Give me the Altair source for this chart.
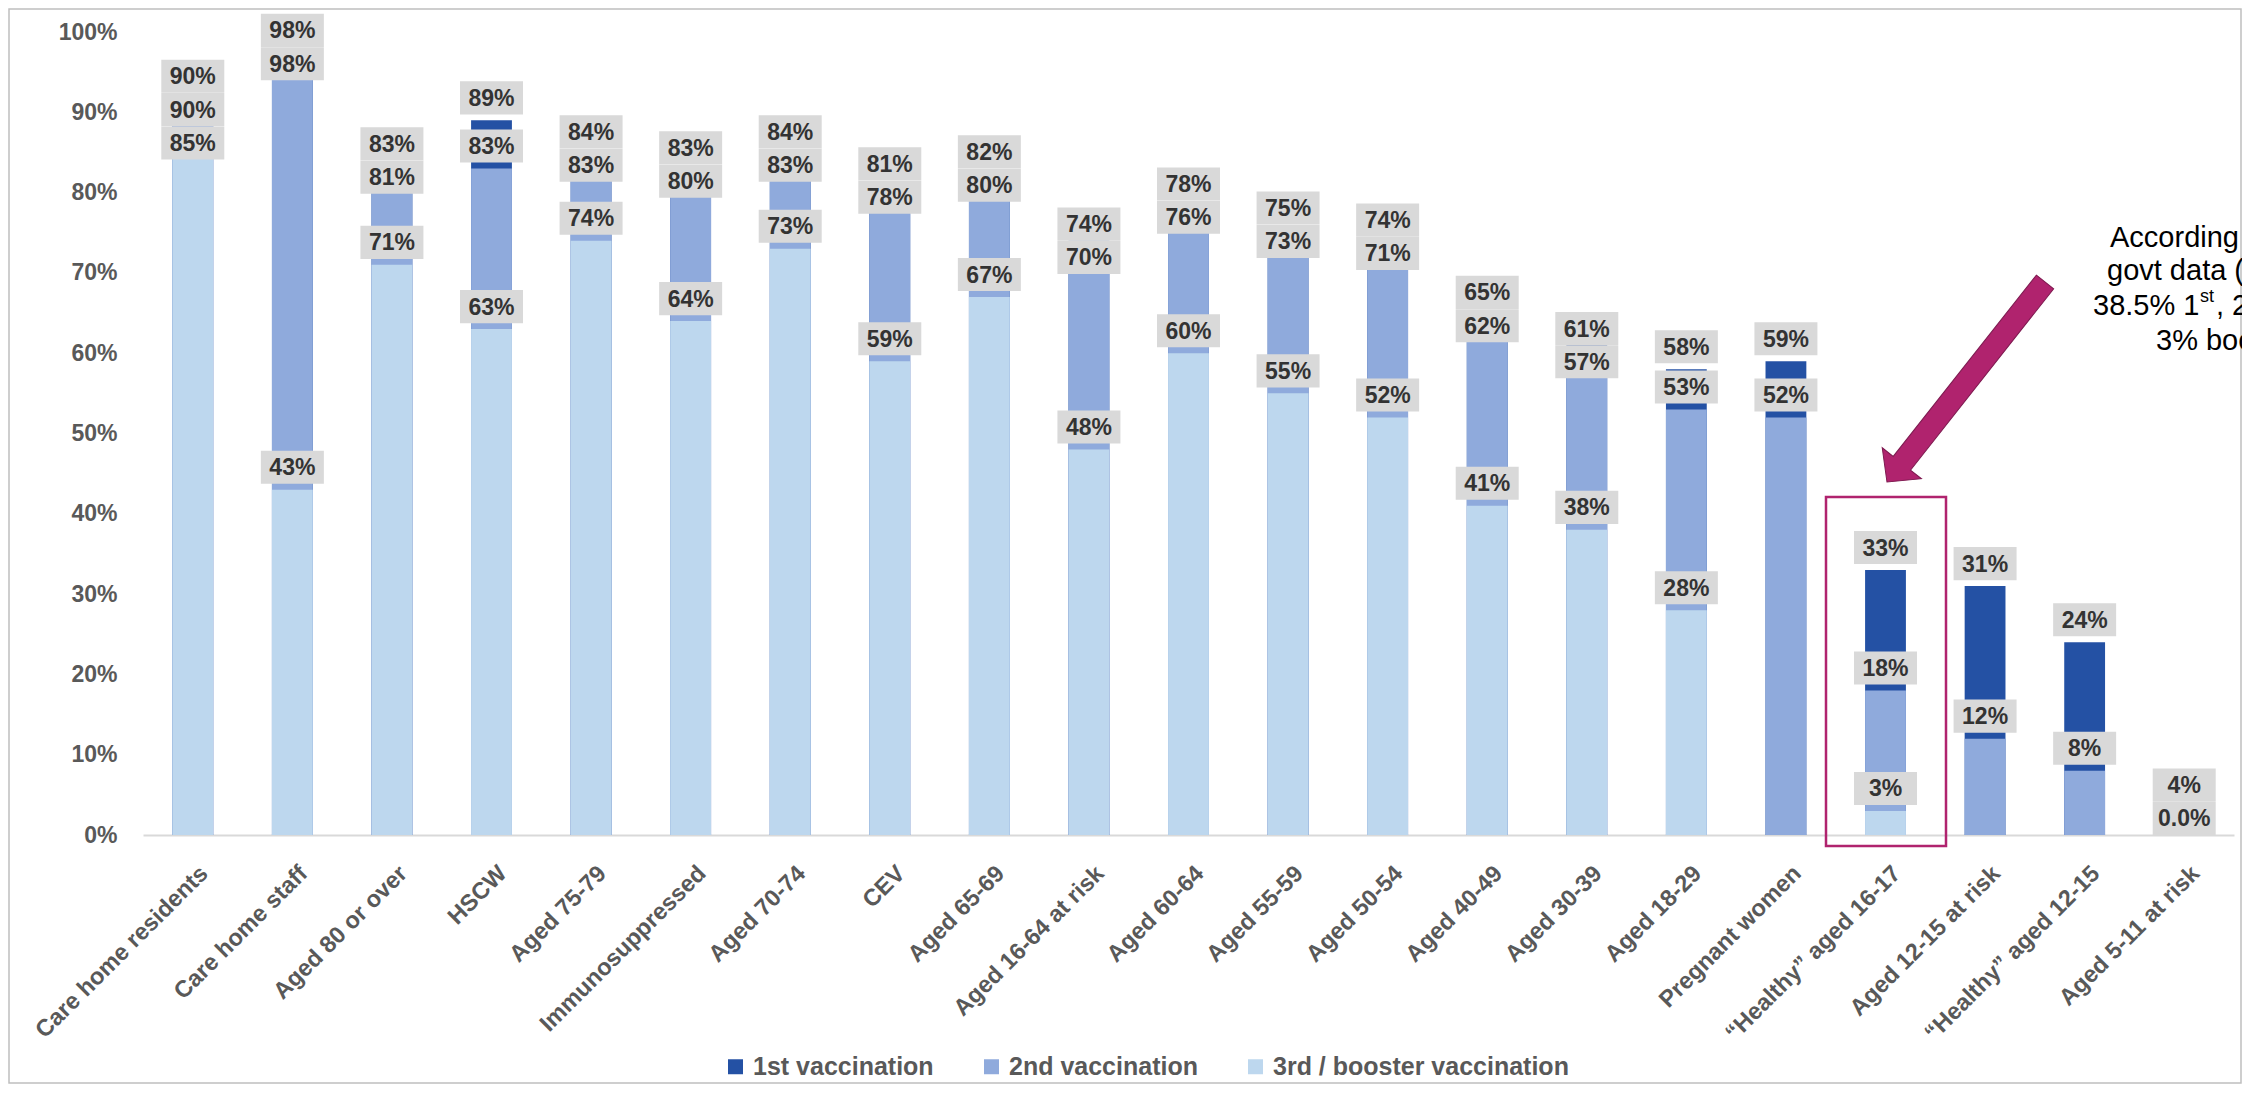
import altair as alt
import pandas as pd

categories = [
    "Care home residents", "Care home staff", "Aged 80 or over", "HSCW", "Aged 75-79",
    "Immunosuppressed", "Aged 70-74", "CEV", "Aged 65-69", "Aged 16-64 at risk",
    "Aged 60-64", "Aged 55-59", "Aged 50-54", "Aged 40-49", "Aged 30-39", "Aged 18-29",
    "Pregnant women", "\u201cHealthy\u201d aged 16-17", "Aged 12-15 at risk",
    "\u201cHealthy\u201d aged 12-15", "Aged 5-11 at risk",
]
first_dose = [90, 98, 83, 89, 84, 83, 84, 81, 82, 74, 78, 75, 74, 65, 61, 58, 59, 33, 31, 24, 4]
second_dose = [90, 98, 81, 83, 83, 80, 83, 78, 80, 70, 76, 73, 71, 62, 57, 53, 52, 18, 12, 8, 0]
booster_dose = [85, 43, 71, 63, 74, 64, 73, 59, 67, 48, 60, 55, 52, 41, 38, 28,
                None, 3, None, None, None]

series_names = ["1st vaccination", "2nd vaccination", "3rd / booster vaccination"]
series_colors = ["#2451A4", "#8FAADC", "#BDD7EE"]

FONT = "Liberation Sans, Arial, sans-serif"

# ---------- bars (drawn back to front: 1st, 2nd, booster) ----------
rows = []
for name, vals in zip(series_names, [first_dose, second_dose, booster_dose]):
    for c, v in zip(categories, vals):
        if v is not None:
            rows.append({"category": c, "series": name, "value": v})
bars_df = pd.DataFrame(rows)

# ---------- label layout (boxes just above each value, pushed apart on overlap) ----------
OFF, GAP, FLOOR, CEIL, CL_OFF = 2.8, 4.15, 2.06, 100.2, 2.0


def place(vals):
    items = sorted([(v, i) for i, v in enumerate(vals) if v is not None])
    clusters = []
    for v, i in items:
        clusters.append({"d": [v + OFF], "i": [i], "v": [v]})
        while len(clusters) > 1:
            a, b = clusters[-2], clusters[-1]
            ca = sum(a["d"]) / len(a["d"])
            cb = sum(b["d"]) / len(b["d"])
            top_a = ca + (len(a["d"]) - 1) * GAP / 2
            bot_b = cb - (len(b["d"]) - 1) * GAP / 2
            if bot_b - top_a < GAP:
                clusters[-2:] = [{"d": a["d"] + b["d"], "i": a["i"] + b["i"], "v": a["v"] + b["v"]}]
            else:
                break
    out = []
    for cl in clusters:
        n = len(cl["d"])
        half = (n - 1) * GAP / 2
        base = sum(cl["d"]) / n if n == 1 else sum(cl["v"]) / n + CL_OFF
        c = min(max(base, FLOOR + half), CEIL - half)
        for k, (v, i) in enumerate(zip(cl["v"], cl["i"])):
            out.append((i, v, c - half + k * GAP))
    return out


lab_rows = []
for ci, c in enumerate(categories):
    vals = [first_dose[ci], second_dose[ci], booster_dose[ci]]
    for i, v, pos in place(vals):
        txt = "0.0%" if v == 0 else f"{v:.0f}%"
        lab_rows.append({"category": c, "label": txt, "yc": pos,
                         "lo": max(pos - 2.06, 0), "hi": pos + 2.06})
lab_df = pd.DataFrame(lab_rows)

W, H = 2091, 803

xscale = alt.Scale(domain=categories, paddingInner=0.59, paddingOuter=0.295)
yscale = alt.Scale(domain=[0, 100])

x_enc = alt.X("category:N", sort=categories, scale=xscale, title=None,
              axis=alt.Axis(labelAngle=-45, labelAlign="right", labelBaseline="top",
                            labelPadding=26, labelOffset=3, labelFont=FONT, labelFontSize=23.5,
                            labelFontWeight="bold", labelColor="#595959", labelLimit=500,
                            domainColor="#d9d9d9", domainWidth=2, ticks=False, grid=False))

bars = alt.Chart(bars_df).mark_bar().encode(
    x=x_enc,
    y=alt.Y("value:Q", stack=None, scale=yscale, title=None,
            axis=alt.Axis(values=list(range(0, 101, 10)), labelExpr="datum.value + '%'",
                          labelFont=FONT, labelFontSize=23, labelFontWeight="bold",
                          labelColor="#595959", labelPadding=26, ticks=False,
                          domain=False, grid=False)),
    color=alt.Color("series:N", scale=alt.Scale(domain=series_names, range=series_colors),
                    legend=alt.Legend(orient="none", legendX=580, legendY=1022,
                                      direction="horizontal", title=None, symbolType="square",
                                      symbolSize=225, symbolStrokeWidth=0, labelFont=FONT,
                                      labelFontSize=25, labelFontWeight="bold",
                                      labelColor="#595959", columnPadding=45, labelOffset=5,
                                      labelLimit=500)),
)

boxes = alt.Chart(lab_df).mark_bar(width=63, color="#D9D9D9").encode(
    x=alt.X("category:N", sort=categories, scale=xscale),
    y=alt.Y("lo:Q", scale=yscale),
    y2="hi:Q",
)

texts = alt.Chart(lab_df).mark_text(font=FONT, fontSize=23, fontWeight="bold",
                                    color="#333333", baseline="middle", dy=1).encode(
    x=alt.X("category:N", sort=categories, scale=xscale),
    y=alt.Y("yc:Q", scale=yscale),
    text="label:N",
)

one = pd.DataFrame({"k": [0]})
MAGENTA = "#B0236E"

frame = alt.Chart(one).mark_rect(fillOpacity=0, stroke="#BFBFBF", strokeWidth=1.5).encode(
    x=alt.value(-134), x2=alt.value(W + 7), y=alt.value(-23), y2=alt.value(1051))

highlight = alt.Chart(one).mark_rect(fillOpacity=0, stroke=MAGENTA, strokeWidth=2.5).encode(
    x=alt.value(1683), x2=alt.value(1803), y=alt.value(465), y2=alt.value(814))

arrow_path = ("M -0.0863 -1 L 0.0863 -1 L 0.0863 0.812 L 0.196 0.812 L 0 1 "
              "L -0.196 0.812 L -0.0863 0.812 Z")
arrow = alt.Chart(one).mark_point(shape=arrow_path, filled=True, fill=MAGENTA, opacity=1,
                                  stroke="#7E1A50", strokeWidth=1, size=65025,
                                  angle=38.3).encode(
    x=alt.value(1823), y=alt.value(350))


def note(txt, x, y, size=29):
    return alt.Chart(one).mark_text(text=txt, font=FONT, fontSize=size, color="#000000",
                                    align="left", baseline="alphabetic").encode(
        x=alt.value(x), y=alt.value(y))


notes = [
    note("According t", 1967, 215),
    note("govt data (0", 1964, 248),
    note("38.5% 1", 1950, 283),
    note("st", 2057, 270, 18),
    note(", 24", 2073, 283),
    note("3% boo", 2013, 318),
]

chart = alt.layer(frame, bars, boxes, texts, highlight, arrow, *notes).properties(
    width=W, height=H,
    padding={"left": 135, "top": 24, "right": 8, "bottom": 249},
    autosize=alt.AutoSizeParams(type="none"),
    background="#ffffff",
).configure_view(strokeWidth=0)

chart.save("out.html", embed_options={"renderer": "svg", "actions": False})
